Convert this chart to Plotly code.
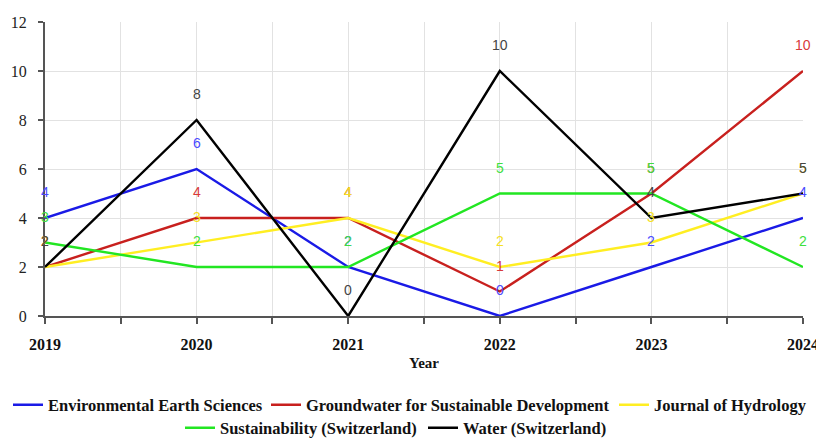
import plotly.graph_objects as go

years = [2019, 2020, 2021, 2022, 2023, 2024]
series_names = [
    "Environmental Earth Sciences",
    "Groundwater for Sustainable Development",
    "Journal of Hydrology",
    "Sustainability (Switzerland)",
    "Water (Switzerland)",
]
ees = [4, 6, 2, 0, 2, 4]
gsd = [2, 4, 4, 1, 5, 10]
joh = [2, 3, 4, 2, 3, 5]
sus = [3, 2, 2, 5, 5, 2]
wat = [2, 8, 0, 10, 4, 5]
y_ticks = [0, 2, 4, 6, 8, 10, 12]

values = [ees, gsd, joh, sus, wat]
line_colors = ["#1a1ae6", "#c8201e", "#ffee22", "#22e622", "#000000"]
label_colors = ["#4a4aff", "#d83a3a", "#f5e020", "#3ee03e", "#444444"]
legend_ids = ["legend", "legend2", "legend3", "legend4", "legend5"]

W, H = 824, 430
# legend left edges in figure pixels, rows in container fractions
legend_left_px = [0, 258, 606, 172, 415]
legend_y = [0.0767, 0.0767, 0.0767, 0.0233, 0.0233]

fig = go.Figure()
for name, vals, lc, lg in zip(series_names, values, line_colors, legend_ids):
    fig.add_trace(go.Scatter(
        x=years, y=vals, mode="lines", name=name,
        line=dict(color=lc, width=2.4), legend=lg,
    ))

annotations = []
for vals, tc in zip(values, label_colors):
    for xv, yv in zip(years, vals):
        annotations.append(dict(
            x=xv, y=yv, text=str(yv), showarrow=False, yshift=26,
            font=dict(family="Liberation Sans, Arial", size=14, color=tc),
            xanchor="center", yanchor="middle",
        ))

serif = "Liberation Serif, Times New Roman, serif"
legend_font = dict(family=serif, size=16.5, color="#111", weight="bold")
legends = {}
for lg, lx, ly in zip(legend_ids, legend_left_px, legend_y):
    legends[lg] = dict(
        orientation="h", xref="container", x=lx / W, xanchor="left",
        yref="container", y=ly, yanchor="middle",
        font=legend_font, bgcolor="rgba(0,0,0,0)",
    )

fig.update_layout(
    width=W, height=H,
    margin=dict(l=37, r=29, t=14, b=122, autoexpand=False),
    plot_bgcolor="white", paper_bgcolor="white",
    annotations=annotations,
    xaxis=dict(
        range=[2019, 2024], tickvals=years, ticktext=[str(y) for y in years],
        tickfont=dict(family=serif, size=16, color="#111", weight="bold"),
        ticklabelstandoff=7,
        showgrid=True, gridcolor="#e2e2e2", gridwidth=1,
        showline=True, linecolor="#555", linewidth=2,
        ticks="outside", ticklen=6, tickcolor="#555", tickwidth=1.5,
        minor=dict(dtick=0.5, tick0=2019, ticks="outside", ticklen=6,
                   tickcolor="#555", showgrid=True, gridcolor="#e2e2e2"),
        title=dict(text="Year", font=dict(family=serif, size=15, color="#111", weight="bold"),
                   standoff=5),
        zeroline=False, automargin=False,
    ),
    yaxis=dict(
        range=[0, 12], tickvals=y_ticks,
        tickfont=dict(family=serif, size=16, color="#222"),
        ticklabelstandoff=8,
        showgrid=True, gridcolor="#e2e2e2", gridwidth=1,
        showline=True, linecolor="#555", linewidth=2,
        ticks="outside", ticklen=5, tickcolor="#555", tickwidth=1.5,
        zeroline=False, automargin=False,
    ),
    showlegend=True,
    **legends,
)

fig.write_html("out.html")
